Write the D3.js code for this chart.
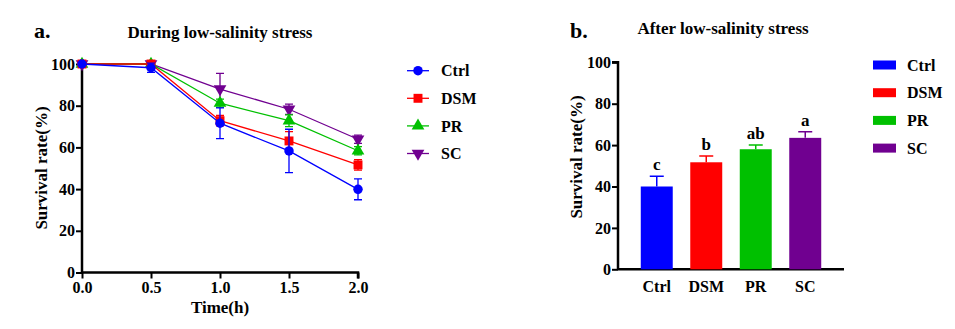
<!DOCTYPE html>
<html lang="en">
<head>
<meta charset="utf-8">
<title>Survival rate under low-salinity stress</title>
<script src="https://cdn.jsdelivr.net/npm/d3@7"></script>
<style>
  body { margin: 0; background: #fff; }
</style>
</head>
<body>
<script>
// groups and colours
var groups = ["Ctrl", "DSM", "PR", "SC"];
var colors = ["#0000ff", "#ff0000", "#00c000", "#700090"];
var shapes = [d3.symbolCircle, d3.symbolSquare, d3.symbolTriangle, d3.symbolTriangle];

// panel a: survival over time
var times = [0, 0.5, 1.0, 1.5, 2.0];
var ctrlMean = [100, 98.2, 71.6, 58.3, 39.9];
var ctrlErr  = [0, 2.2, 7.4, 10.4, 5.0];
var dsmMean  = [100, 100, 72.8, 63.1, 51.6];
var dsmErr   = [0, 0, 2.5, 4.5, 2.5];
var prMean   = [100, 100, 81.2, 72.8, 58.4];
var prErr    = [0, 0, 2.0, 2.8, 2.0];
var scMean   = [100, 100, 88.0, 78.3, 63.9];
var scErr    = [0, 0, 7.5, 2.5, 2.0];
var xTicks = [0, 0.5, 1.0, 1.5, 2.0];
var yTicks = [0, 20, 40, 60, 80, 100];

// panel b: survival after stress
var barMean = [40, 51.7, 58, 63.5];
var barErr  = [5, 3, 2, 3];
var letters = ["c", "b", "ab", "a"];

var series = [
  {name: "Ctrl", mean: ctrlMean, err: ctrlErr},
  {name: "DSM", mean: dsmMean, err: dsmErr},
  {name: "PR", mean: prMean, err: prErr},
  {name: "SC", mean: scMean, err: scErr}
];

var FONT = "'Liberation Serif', 'Times New Roman', 'DejaVu Serif', serif";
var W = 955, H = 329;
var svg = d3.select("body").append("svg").attr("width", W).attr("height", H);

// ---------- panel a ----------
var xA = d3.scaleLinear().domain([0, 2]).range([82, 358]);
var yA = d3.scaleLinear().domain([0, 100]).range([272.5, 64]);

var gA = svg.append("g");

var axA = gA.append("g").attr("transform", "translate(0,272.5)")
  .call(d3.axisBottom(xA).tickValues(xTicks).tickFormat(d3.format(".1f")).tickSize(6).tickPadding(3));
var ayA = gA.append("g").attr("transform", "translate(82,0)")
  .call(d3.axisLeft(yA).tickValues(yTicks).tickSize(6).tickPadding(1));
[axA, ayA].forEach(function(a) {
  a.select(".domain").attr("stroke", "#000").attr("stroke-width", 2.5);
  a.selectAll(".tick line").attr("stroke", "#000").attr("stroke-width", 2);
  a.selectAll(".tick text").attr("fill", "#000").style("font-size", "16px");
});
axA.select(".domain").attr("d", "M82,0H358V6");
ayA.select(".domain").attr("d", "M0,272.5V64");

var line = d3.line().x(function(d) { return xA(d[0]); }).y(function(d) { return yA(d[1]); });

series.slice().reverse().forEach(function(s) {
  var i = groups.indexOf(s.name);
  var c = colors[i];
  var pts = times.map(function(t, k) { return [t, s.mean[k], s.err[k]]; });
  var g = gA.append("g");
  g.append("path").attr("d", line(pts)).attr("fill", "none").attr("stroke", c).attr("stroke-width", 1.3);
  g.selectAll(".eb").data(pts.filter(function(d) { return d[2] > 0; })).enter().append("path")
    .attr("d", function(d) {
      var x = xA(d[0]), y1 = yA(d[1] - d[2]), y2 = yA(d[1] + d[2]);
      return "M" + x + "," + y1 + "V" + y2 + "M" + (x - 4) + "," + y1 + "H" + (x + 4) + "M" + (x - 4) + "," + y2 + "H" + (x + 4);
    })
    .attr("stroke", c).attr("stroke-width", 1.3).attr("fill", "none");
  var sym = d3.symbol().type(shapes[i]).size(i == 1 ? 80 : 70);
  g.selectAll(".pt").data(pts).enter().append("path")
    .attr("d", sym)
    .attr("transform", function(d) {
      return "translate(" + xA(d[0]) + "," + yA(d[1]) + ")" + (i == 3 ? " rotate(180)" : "");
    })
    .attr("fill", c);
});

gA.append("text").attr("x", 34).attr("y", 38).style("font-size", "22px").text("a.");
gA.append("text").attr("x", 220).attr("y", 38).attr("text-anchor", "middle").style("font-size", "17px")
  .text("During low-salinity stress");
gA.append("text").attr("x", 220).attr("y", 313).attr("text-anchor", "middle").style("font-size", "17px").text("Time(h)");
gA.append("text").attr("transform", "translate(47,168) rotate(-90)").attr("text-anchor", "middle")
  .style("font-size", "17px").text("Survival rate(%)");

// legend a
var legA = gA.selectAll(".legA").data(groups).enter().append("g")
  .attr("transform", function(d, i) { return "translate(418," + (70.7 + i * 27.6) + ")"; });
legA.append("line").attr("x1", -11).attr("x2", 11).attr("stroke", function(d, i) { return colors[i]; }).attr("stroke-width", 1.3);
legA.append("path")
  .attr("d", function(d, i) { return d3.symbol().type(shapes[i]).size(i == 1 ? 80 : 70)(); })
  .attr("transform", function(d, i) { return i == 3 ? "rotate(180)" : null; })
  .attr("fill", function(d, i) { return colors[i]; });
legA.append("text").attr("x", 23).attr("dy", "0.35em").style("font-size", "16px").text(function(d) { return d; });

// ---------- panel b ----------
var xB = d3.scaleBand().domain(groups).range([618, 844]).paddingInner(0.354).paddingOuter(0.46);
var yB = d3.scaleLinear().domain([0, 100]).range([269.3, 62.3]);

var gB = svg.append("g");
var axB = gB.append("g").attr("transform", "translate(0,269.3)")
  .call(d3.axisBottom(xB).tickSize(0).tickPadding(11));
var ayB = gB.append("g").attr("transform", "translate(618,0)")
  .call(d3.axisLeft(yB).tickValues(yTicks).tickSize(6).tickPadding(1));
[axB, ayB].forEach(function(a) {
  a.select(".domain").attr("stroke", "#000").attr("stroke-width", 2.5);
  a.selectAll(".tick line").attr("stroke", "#000").attr("stroke-width", 2);
  a.selectAll(".tick text").attr("fill", "#000").style("font-size", "16px");
});
axB.select(".domain").attr("d", "M618,0H844");
ayB.select(".domain").attr("d", "M-6,62.3H0V269.3");

// error bars (upper only) then bars
gB.selectAll(".beb").data(groups).enter().append("path")
  .attr("d", function(d, i) {
    var x = xB(d) + xB.bandwidth() / 2, y1 = yB(barMean[i]), y2 = yB(barMean[i] + barErr[i]);
    return "M" + x + "," + y1 + "V" + y2 + "M" + (x - 7) + "," + y2 + "H" + (x + 7);
  })
  .attr("stroke", function(d, i) { return colors[i]; }).attr("stroke-width", 1.5).attr("fill", "none");
gB.selectAll(".bar").data(groups).enter().append("rect")
  .attr("x", function(d) { return xB(d); })
  .attr("width", xB.bandwidth())
  .attr("y", function(d, i) { return yB(barMean[i]); })
  .attr("height", function(d, i) { return yB(0) - yB(barMean[i]); })
  .attr("fill", function(d, i) { return colors[i]; });
gB.selectAll(".let").data(groups).enter().append("text")
  .attr("x", function(d) { return xB(d) + xB.bandwidth() / 2; })
  .attr("y", function(d, i) { return yB(barMean[i] + barErr[i]) - 6; })
  .attr("text-anchor", "middle").style("font-size", "17px")
  .text(function(d, i) { return letters[i]; });

gB.append("text").attr("x", 570).attr("y", 38).style("font-size", "22px").text("b.");
gB.append("text").attr("x", 723).attr("y", 34).attr("text-anchor", "middle").style("font-size", "17px")
  .text("After low-salinity stress");
gB.append("text").attr("transform", "translate(582,157) rotate(-90)").attr("text-anchor", "middle")
  .style("font-size", "17px").text("Survival rate(%)");

// legend b
var legB = gB.selectAll(".legB").data(groups).enter().append("g")
  .attr("transform", function(d, i) { return "translate(873," + (65 + i * 27.7) + ")"; });
legB.append("rect").attr("x", 0).attr("y", -4.5).attr("width", 23).attr("height", 9)
  .attr("fill", function(d, i) { return colors[i]; });
legB.append("text").attr("x", 34).attr("dy", "0.35em").style("font-size", "16px").text(function(d) { return d; });

// all text: bold serif
svg.selectAll("g").attr("font-family", null);
svg.selectAll("text").style("font-family", FONT).style("font-weight", "bold");
</script>
</body>
</html>
